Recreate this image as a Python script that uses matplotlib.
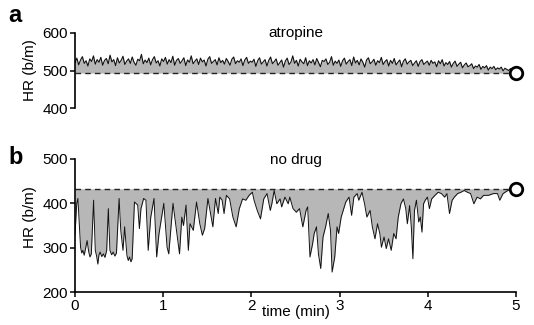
import matplotlib
matplotlib.use("Agg")
import matplotlib.pyplot as plt
import numpy as np

plt.rcParams['font.family'] = ['Liberation Sans', 'DejaVu Sans']

# ---------------- data ----------------
x_ticks = [0, 1, 2, 3, 4, 5]
a_yticks = [400, 500, 600]
b_yticks = [200, 300, 400, 500]

atropine_baseline = 493
atropine_hr = [
    521, 533, 515, 528, 537, 519, 526, 512, 531, 524, 539, 517, 529, 522, 535, 514,
    527, 532, 518, 541, 523, 529, 513, 534, 520, 527, 538, 516, 525, 531, 519, 536,
    522, 514, 530, 526, 543, 518, 528, 521, 533, 515, 529, 537, 520, 526, 512, 531,
    524, 535, 517, 529, 521, 538, 514, 527, 532, 519, 526, 534, 513, 528, 522, 539,
    518, 525, 531, 516, 533, 523, 528, 512, 530, 537, 519, 524, 529, 515, 534, 521,
    527, 517, 532, 524, 514, 530, 536, 518, 526, 522, 531, 513, 528, 535, 519, 525,
    522, 530, 511, 526, 534, 517, 523, 529, 512, 527, 536, 518, 524, 531, 514, 521,
    528, 509, 525, 533, 516, 522, 539, 519, 527, 512, 530, 523, 518, 534, 513, 526,
    520, 529, 515, 532, 521, 510, 527, 524, 531, 516, 522, 537, 514, 525, 519, 528,
    511, 526, 533, 517, 524, 529, 513, 536, 520, 527, 515, 531, 522, 509, 528, 534,
    518, 523, 530, 514, 526, 521, 535, 516, 524, 529, 512, 527, 519, 532, 515, 522,
    528, 510, 525, 531, 517, 523, 527, 513, 520, 526, 511, 524, 529, 516, 521, 525,
    514, 527, 519, 523, 510, 526, 518, 529, 512, 521, 516, 524, 509, 519, 525, 511,
    517, 522, 507, 515, 520, 510, 513, 518, 505, 512, 509, 516, 503, 511, 507, 513,
    501, 509, 505, 511, 502, 507, 504, 509, 499, 506, 503, 500, 505, 498, 501, 496,
]
atropine_t = list(np.linspace(0, 5, len(atropine_hr)))

nodrug_baseline = 433
nodrug_t = [
    0.000, 0.020, 0.033, 0.063, 0.076, 0.089, 0.104, 0.119, 0.137, 0.156, 0.170, 0.185,
    0.211, 0.230, 0.245, 0.259, 0.272, 0.285, 0.303, 0.322, 0.340, 0.359, 0.378, 0.396,
    0.415, 0.433, 0.452, 0.470, 0.500, 0.519, 0.544, 0.563, 0.589, 0.604, 0.619, 0.634,
    0.648, 0.674, 0.711, 0.730, 0.748, 0.778, 0.804, 0.830, 0.859, 0.896, 0.926, 0.952,
    1.007, 1.044, 1.063, 1.111, 1.156, 1.185, 1.211, 1.230, 1.259, 1.285, 1.304, 1.341,
    1.378, 1.415, 1.444, 1.470, 1.507, 1.544, 1.563, 1.593, 1.624, 1.642, 1.668, 1.690,
    1.716, 1.753, 1.790, 1.827, 1.863, 1.900, 1.937, 1.974, 2.011, 2.030, 2.066, 2.103,
    2.140, 2.177, 2.214, 2.232, 2.258, 2.288, 2.325, 2.343, 2.380, 2.417, 2.435, 2.472,
    2.509, 2.546, 2.583, 2.620, 2.638, 2.664, 2.694, 2.712, 2.738, 2.760, 2.786, 2.812,
    2.841, 2.871, 2.897, 2.915, 2.945, 2.971, 2.989, 3.018, 3.070, 3.107, 3.136, 3.162,
    3.199, 3.217, 3.254, 3.283, 3.309, 3.346, 3.371, 3.401, 3.430, 3.456, 3.474, 3.504,
    3.529, 3.555, 3.585, 3.614, 3.640, 3.665, 3.695, 3.724, 3.750, 3.768, 3.794, 3.813,
    3.831, 3.849, 3.871, 3.897, 3.915, 3.934, 3.952, 3.971, 3.996, 4.018, 4.044, 4.081,
    4.118, 4.154, 4.191, 4.217, 4.246, 4.276, 4.301, 4.338, 4.375, 4.412, 4.449, 4.485,
    4.522, 4.559, 4.596, 4.632, 4.688, 4.743, 4.790, 4.816, 4.853, 4.908, 4.945, 5.000,
]
nodrug_hr = [
    330, 400, 411, 301, 288, 294, 283, 297, 316, 290, 279, 286,
    407, 294, 281, 263, 284, 290, 280, 286, 278, 294, 388, 294,
    284, 290, 281, 288, 411, 339, 294, 347, 282, 271, 279, 268,
    275, 403, 396, 343, 388, 411, 407, 294, 369, 411, 279, 331,
    400, 301, 286, 400, 331, 286, 369, 350, 396, 294, 354, 339,
    403, 354, 328, 343, 411, 369, 347, 411, 377, 414, 407, 377,
    418, 410, 369, 347, 388, 410, 407, 418, 425, 407, 384, 365,
    410, 422, 384, 399, 429, 399, 410, 392, 414, 399, 414, 388,
    380, 388, 347, 384, 392, 279, 309, 332, 347, 286, 253, 324,
    347, 377, 339, 245, 279, 347, 332, 369, 403, 414, 373, 414,
    422, 407, 425, 399, 369, 384, 347, 320, 354, 332, 301, 324,
    298, 320, 294, 332, 320, 369, 399, 410, 388, 354, 395, 347,
    275, 384, 407, 358, 369, 335, 399, 407, 414, 388, 410, 418,
    425, 422, 414, 422, 377, 407, 414, 422, 425, 429, 425, 422,
    399, 414, 410, 418, 418, 422, 422, 407, 422, 429, 433, 433,
]

# ---------------- figure ----------------
fig = plt.figure(figsize=(5.34, 3.25), dpi=100)
W, H = 534, 325
left_px, right_px = 75, 516

def ax_rect(top_px, bottom_px):
    return [left_px / W, 1 - bottom_px / H, (right_px - left_px) / W, (bottom_px - top_px) / H]

ax_a = fig.add_axes(ax_rect(33, 108))
ax_b = fig.add_axes(ax_rect(159, 292))

fill_col = '#b7b7b7'
fs = 11

# panel a
ax_a.fill_between(atropine_t, atropine_hr, atropine_baseline, color=fill_col, lw=0)
ax_a.plot(atropine_t, atropine_hr, color='#111111', lw=0.8)
ax_a.axhline(atropine_baseline, color='#222222', lw=1.0, ls=(0, (4, 3)))
ax_a.plot([5], [atropine_baseline], 'o', ms=9, mfc='white', mec='black', mew=2.0, clip_on=False, zorder=5)
ax_a.set_xlim(0, 5)
ax_a.set_ylim(400, 600)
ax_a.set_yticks(a_yticks)
ax_a.set_xticks([])
for s in ['top', 'right', 'bottom']:
    ax_a.spines[s].set_visible(False)
ax_a.text(2.5, 600, 'atropine', ha='center', va='center', fontsize=fs)
ax_a.set_ylabel('HR (b/m)', fontsize=fs)
ax_a.yaxis.set_label_coords(-0.087, 0.5)

# panel b
ax_b.fill_between(nodrug_t, nodrug_hr, nodrug_baseline, color=fill_col, lw=0)
ax_b.plot(nodrug_t, nodrug_hr, color='#111111', lw=0.7)
ax_b.axhline(nodrug_baseline, color='#222222', lw=1.0, ls=(0, (4, 3)))
ax_b.plot([5], [nodrug_baseline], 'o', ms=9, mfc='white', mec='black', mew=2.0, clip_on=False, zorder=5)
ax_b.set_xlim(0, 5)
ax_b.set_ylim(200, 500)
ax_b.set_yticks(b_yticks)
ax_b.set_xticks(x_ticks)
for s in ['top', 'right']:
    ax_b.spines[s].set_visible(False)
ax_b.text(2.5, 497, 'no drug', ha='center', va='center', fontsize=fs)
ax_b.set_ylabel('HR (b/m)', fontsize=fs)
ax_b.yaxis.set_label_coords(-0.087, 0.56)
ax_b.set_xlabel('time (min)', fontsize=fs)
ax_b.xaxis.set_label_coords(0.5, -0.1)

for ax in (ax_a, ax_b):
    for s in ax.spines.values():
        s.set_linewidth(1.2)
    ax.tick_params(direction='out', length=3.5, width=1.1, labelsize=fs, pad=1.5)

fig.text(8 / W, 1 - 15 / H, 'a', fontsize=17, fontweight='bold', ha='left', va='center')
fig.text(8 / W, 1 - 157 / H, 'b', fontsize=17, fontweight='bold', ha='left', va='center')

fig.savefig('out.png', dpi=100)
